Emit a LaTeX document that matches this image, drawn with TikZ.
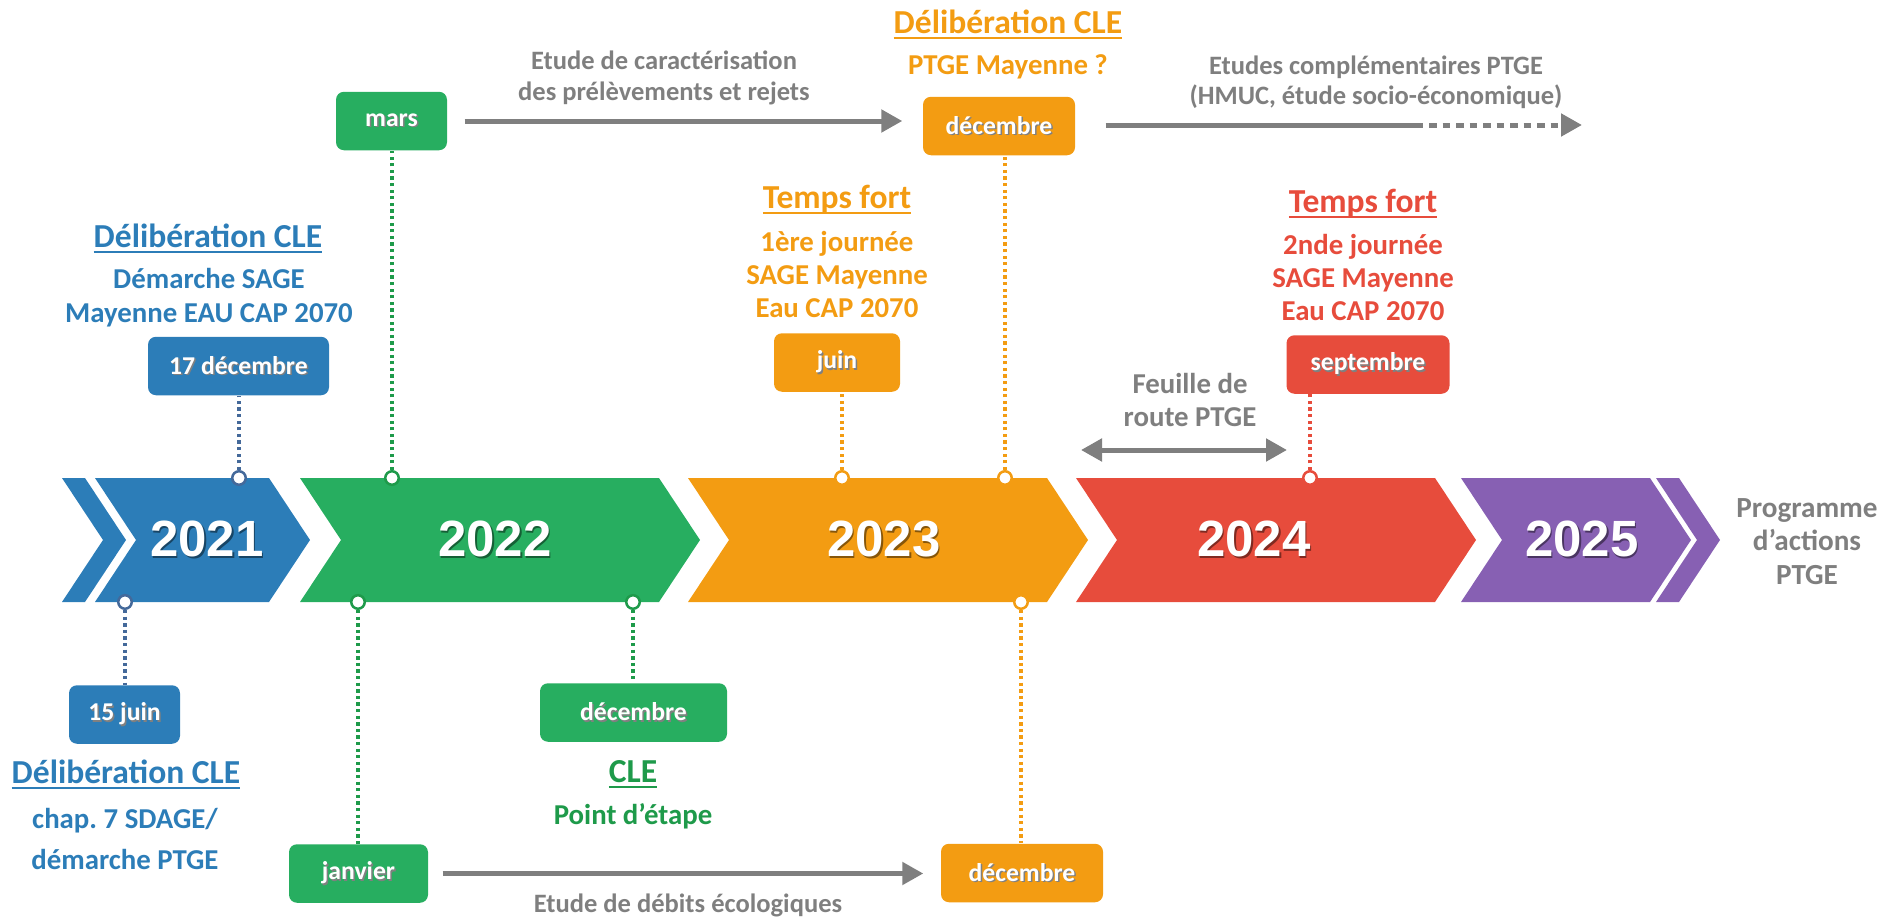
\documentclass[tikz,border=0pt]{standalone}
\usepackage{fontspec}
\setmainfont{Carlito}
\newfontfamily\yearfont{Liberation Sans}
\usepackage{xcolor}
\usetikzlibrary{arrows.meta}
\frenchspacing

\definecolor{cBlue}{HTML}{2C7DB8}
\definecolor{cSteel}{HTML}{44699A}
\definecolor{cGreen}{HTML}{27AE60}
\definecolor{cDkGreen}{HTML}{1E9A4A}
\definecolor{cOrange}{HTML}{F39C12}
\definecolor{cRed}{HTML}{E74C3C}
\definecolor{cPurple}{HTML}{8760B3}
\definecolor{cGray}{HTML}{7F7F7F}

\newsavebox\shbox
\newcommand\shtxt[2]{\sbox\shbox{#2}\rlap{\kern0.15mm\raisebox{-0.15mm}{\textcolor{#1}{#2}}}\usebox\shbox}
\newcommand\ulttl[1]{\sbox\shbox{#1}\rlap{\rule[-0.6mm]{\wd\shbox}{0.2mm}}\usebox\shbox}

\begin{document}
\begin{tikzpicture}[x=0.1mm, y=-0.1mm,
  datebox/.style={fill=#1, rounded corners=0.8mm, minimum height=5.85mm, inner sep=0pt, text=white, font=\bfseries\fontsize{7.3}{9}\selectfont},
  knob/.style={circle, draw=#1, fill=white, line width=0.25mm, minimum size=1.35mm, inner sep=0pt},
  stem/.style={#1, line width=0.36mm, dash pattern=on 0.33mm off 0.33mm},
  ttl/.style={anchor=base, font=\bfseries\fontsize{9.55}{11}\selectfont},
  txt/.style={anchor=base, align=center, font=\bfseries\fontsize{8.2}{9.3}\selectfont},
  note/.style={anchor=base, align=center, text=cGray, font=\bfseries\fontsize{7.55}{8.7}\selectfont},
  year/.style={text=white, font=\yearfont\bfseries\fontsize{14.5}{16}\selectfont},
  flow/.style={draw=cGray, line width=0.5mm},
  headed/.style={-{Triangle[length=2.1mm,width=2.2mm]}}]
\useasboundingbox (0,0) rectangle (1885,920);
% frise des annees
\foreach \l/\r/\c in {62/85/cBlue, 95/269/cBlue, 300/659/cGreen, 688/1047/cOrange, 1076/1435/cRed, 1461/1650/cPurple, 1656/1679/cPurple}
  \fill[\c] (\l,478) -- (\r,478) -- ++(41,62) -- (\r,602) -- (\l,602) -- ++(41,-62) -- cycle;
\foreach \x/\n/\c in {207/2021/cBlue, 495/2022/cGreen, 884/2023/cOrange, 1254/2024/cRed, 1582/2025/cPurple}
  \node[year] (y\n) at (\x,540) {\shtxt{\c!55!black}{\n}};

% reperes sur la frise
\node[knob=cSteel] (k17) at (239,478) {};
\node[knob=cSteel] (k15) at (125,602) {};
\node[knob=cDkGreen] (kmars) at (392,478) {};
\node[knob=cDkGreen] (kjan) at (358,602) {};
\node[knob=cDkGreen] (kdec) at (633,602) {};
\node[knob=cOrange] (kjuin) at (842,478) {};
\node[knob=cOrange] (kdec1) at (1005,478) {};
\node[knob=cOrange] (kdec2) at (1021,602) {};
\node[knob=cRed] (ksep) at (1310,478) {};

% dates
\node[datebox=cBlue, minimum width=18.1mm] (b17) at (238.5,366) {\shtxt{black!50}{17 décembre}};
\node[datebox=cBlue, minimum width=11.1mm] (b15) at (124.5,714.5) {\shtxt{black!50}{15 juin}};
\node[datebox=cGreen, minimum width=11.1mm] (gmars) at (391.5,121) {\shtxt{black!50}{mars}};
\node[datebox=cGreen, minimum width=13.9mm] (gjan) at (358.5,873.5) {\shtxt{black!50}{janvier}};
\node[datebox=cGreen, minimum width=18.7mm] (gdec) at (633.5,712.5) {\shtxt{black!50}{décembre}};
\node[datebox=cOrange, minimum width=12.6mm] (ojuin) at (837,362.5) {\shtxt{black!50}{juin}};
\node[datebox=cOrange, minimum width=15.2mm] (odec1) at (999,126) {\shtxt{black!50}{décembre}};
\node[datebox=cOrange, minimum width=16.2mm] (odec2) at (1022,873) {\shtxt{black!50}{décembre}};
\node[datebox=cRed, minimum width=16.3mm] (rsep) at (1368,364.5) {\shtxt{black!50}{septembre}};

\draw[stem=cSteel] (k17) -- (k17 |- b17.south);
\draw[stem=cSteel] (k15) -- (k15 |- b15.north);
\draw[stem=cDkGreen] (kmars) -- (kmars |- gmars.south);
\draw[stem=cDkGreen] (kjan) -- (kjan |- gjan.north);
\draw[stem=cDkGreen] (kdec) -- (kdec |- gdec.north);
\draw[stem=cOrange] (kjuin) -- (kjuin |- ojuin.south);
\draw[stem=cOrange] (kdec1) -- (kdec1 |- odec1.south);
\draw[stem=cOrange] (kdec2) -- (kdec2 |- odec2.north);
\draw[stem=cRed] (ksep) -- (ksep |- rsep.south);

% textes (base = ligne du bas)
\node[ttl, text=cBlue] (t17) at (208,247) {\ulttl{Délibération CLE}};
\node[txt, text=cBlue, font=\bfseries\fontsize{8.2}{9.6}\selectfont] (d17) at (209,322) {Démarche SAGE\\Mayenne EAU CAP 2070};
\node[ttl, text=cBlue] (t15) at (126,783) {\ulttl{Délibération CLE}};
\node[txt, text=cBlue, font=\bfseries\fontsize{8.2}{11.6}\selectfont] (d15) at (125,869) {chap. 7 SDAGE/\\démarche PTGE};
\node[ttl, text=cDkGreen] (tdec) at (633,782) {\ulttl{CLE}};
\node[txt, text=cDkGreen] (ddec) at (633,824) {Point d’étape};
\node[ttl, text=cOrange] (tjuin) at (837,208) {\ulttl{Temps fort}};
\node[txt, text=cOrange] (djuin) at (837,317) {1ère journée\\SAGE Mayenne\\Eau CAP 2070};
\node[ttl, text=cOrange] (tdec1) at (1008,33) {\ulttl{Délibération CLE}};
\node[txt, text=cOrange] (ddec1) at (1008,74) {PTGE Mayenne ?};
\node[ttl, text=cRed] (tsep) at (1363,212) {\ulttl{Temps fort}};
\node[txt, text=cRed] (dsep) at (1363,320) {2nde journée\\SAGE Mayenne\\Eau CAP 2070};

\node[note] (lcar) at (664,100) {Etude de caractérisation\\des prélèvements et rejets};
\node[note] (lcomp) at (1376,105) {Etudes complémentaires PTGE\\(HMUC, étude socio-économique)};
\node[note] (ldeb) at (688,912) {Etude de débits écologiques};
\node[txt, text=cGray] (lfeu) at (1190,426) {Feuille de\\route PTGE};
\node[txt, text=cGray, font=\bfseries\fontsize{8.3}{9.5}\selectfont] (lprog) at (1807,584) {Programme\\d’actions\\PTGE};

% fleches des etudes
\coordinate (cmid) at (1423,125);
\coordinate (cend) at (1582,125);
\coordinate (f1) at (1081,450);
\coordinate (f2) at (1287,450);
\draw[flow, headed, shorten <=1.7mm, shorten >=2mm] (gmars.east) -- (gmars.east -| odec1.west);
\draw[flow, shorten <=3mm] (cmid -| odec1.east) -- (cmid);
\draw[flow, headed, dash pattern=on 0.75mm off 0.6mm, dash phase=0.75mm] (cmid) -- (cend);
\draw[flow, headed, shorten <=1.4mm, shorten >=1.7mm] (gjan.east) -- (gjan.east -| odec2.west);
\draw[flow, {Triangle[length=2.1mm,width=2.2mm]}-{Triangle[length=2.1mm,width=2.2mm]}] (f1) -- (f2);
\end{tikzpicture}
\end{document}
